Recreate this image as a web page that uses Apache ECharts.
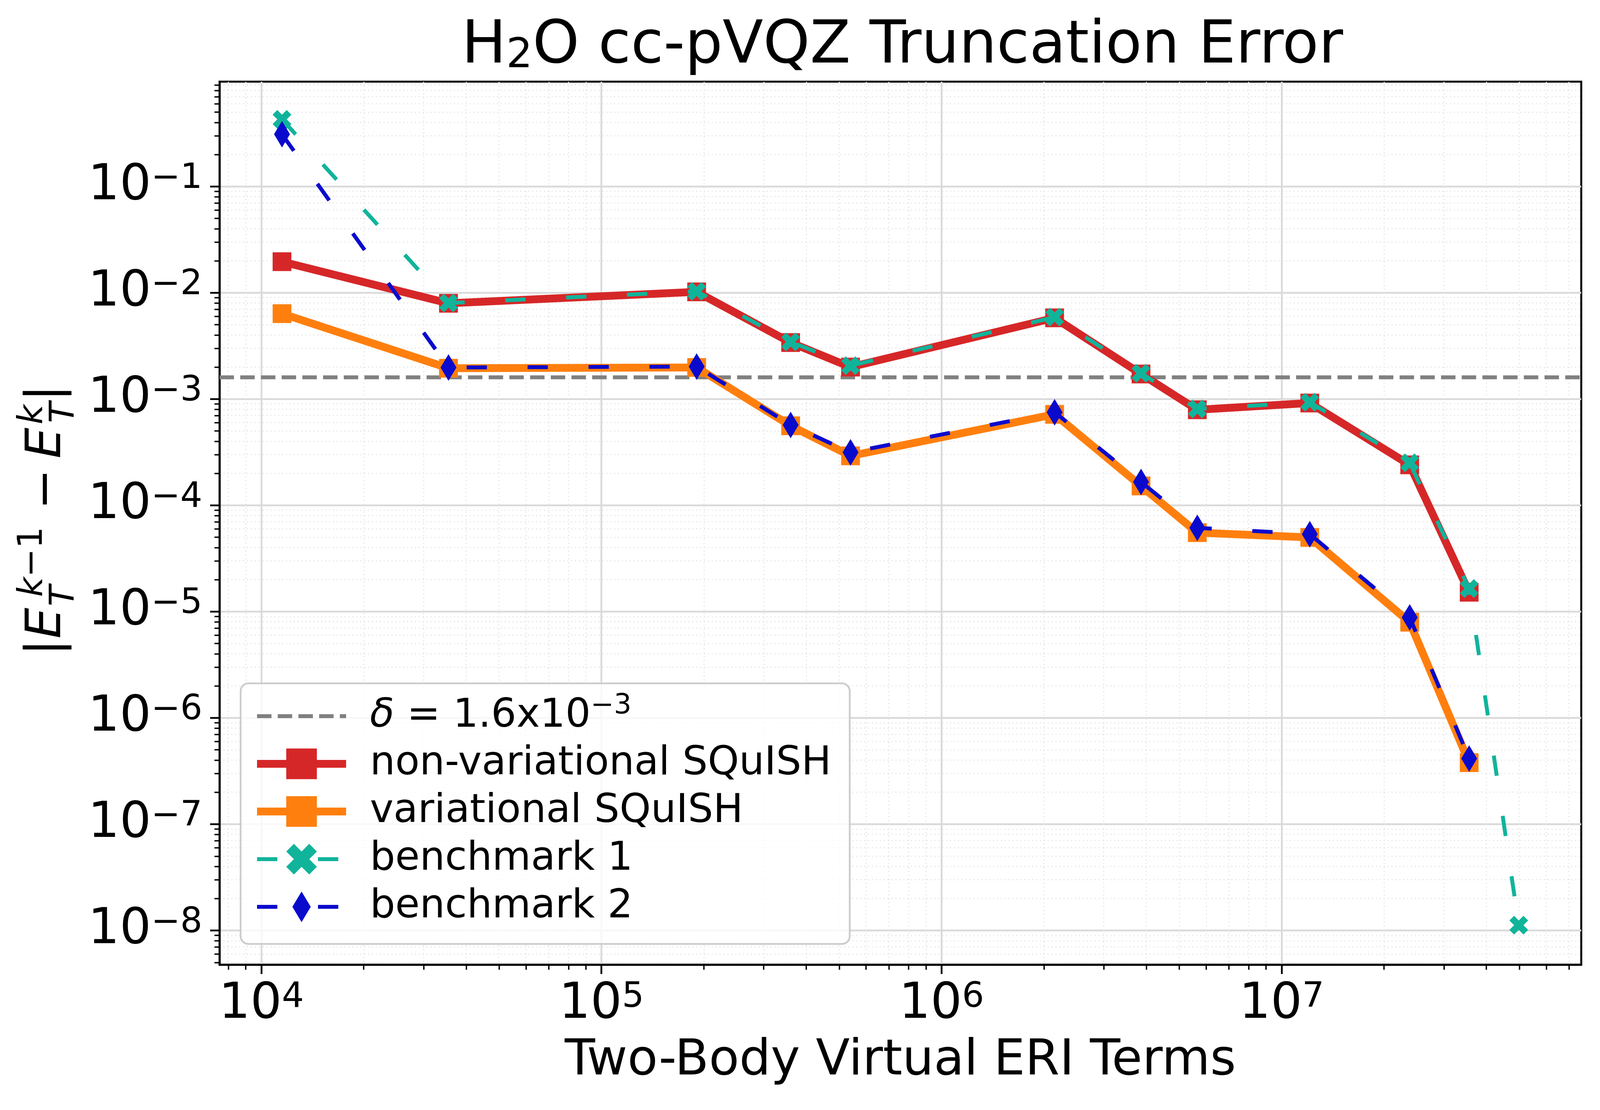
<!DOCTYPE html>
<html>
<head>
<meta charset="utf-8">
<script src="https://cdn.jsdelivr.net/npm/echarts@6/dist/echarts.min.js"></script>
<style>
html,body{margin:0;padding:0;background:#fff;}
#c{width:4101px;height:2841px;}
</style>
</head>
<body>
<div id="c"></div>
<script>
// ---- data ----
const ERI_TERMS = [11500, 35500, 190500, 360000, 540000, 2150000, 3860000, 5650000, 12100000, 23800000, 35600000];
const ERI_TERMS_B1 = [11500, 35500, 190500, 360000, 540000, 2150000, 3860000, 5650000, 12100000, 23800000, 35600000, 49800000];
const NON_VARIATIONAL = [0.0196, 0.00796, 0.0102, 0.0034, 0.00200, 0.0058, 0.00172, 0.000792, 0.000917, 0.000240, 1.52e-5];
const VARIATIONAL = [0.00636, 0.00195, 0.00198, 0.00056, 0.000292, 0.000718, 0.000152, 5.53e-5, 4.99e-5, 7.94e-6, 3.79e-7];
const BENCHMARK_1 = [0.428, 0.0080, 0.0103, 0.00345, 0.00206, 0.0059, 0.00175, 0.000806, 0.000933, 0.000251, 1.65e-5, 1.12e-8];
const BENCHMARK_2 = [0.31, 0.00198, 0.00202, 0.00057, 0.000315, 0.00075, 0.000166, 6.14e-5, 5.35e-5, 8.81e-6, 4.14e-7];
const DELTA = 1.6e-3;

const X_TICKS = [1e4, 1e5, 1e6, 1e7];
const Y_TICKS = [1e-8, 1e-7, 1e-6, 1e-5, 1e-4, 1e-3, 1e-2, 1e-1];

const XMIN = Math.pow(10, 3.877), XMAX = Math.pow(10, 7.881);
const YMIN = Math.pow(10, -8.322), YMAX = Math.pow(10, -0.014);

function minorTicks(lo, hi) {
  const out = [];
  for (let e = Math.floor(Math.log10(lo)); e <= Math.ceil(Math.log10(hi)); e++) {
    for (let k = 2; k <= 9; k++) {
      const v = k * Math.pow(10, e);
      if (v >= lo && v <= hi) out.push(v);
    }
  }
  return out;
}
const X_MINOR = minorTicks(XMIN, XMAX);
const Y_MINOR = minorTicks(YMIN, YMAX);

const FONT = 'DejaVu Sans';
const TICK_FS = 127;

function powLabel(v) {
  const n = Math.round(Math.log10(v));
  return '{b|10}{s|' + (n < 0 ? '\u2212' + (-n) : String(n)) + '}';
}
const tickRich = {
  b: { fontSize: TICK_FS, lineHeight: TICK_FS, fontFamily: FONT, color: '#000' },
  s: { fontSize: 0.7 * TICK_FS, lineHeight: 60, fontFamily: FONT, color: '#000', verticalAlign: 'top' }
};

const X_PATH = 'path://M1,0 L2,1 L3,0 L4,1 L3,2 L4,3 L3,4 L2,3 L1,4 L0,3 L1,2 L0,1 Z';
// thin diamond inside a square bounding box (degenerate points widen the box)
const D_PATH = 'path://M5,0 L8,5 L5,10 L2,5 Z M0,5 L0,5 Z M10,5 L10,5 Z';

const majorSplit = { show: true, lineStyle: { color: '#d9d9d9', width: 4.5 } };
const minorSplit = { show: true, lineStyle: { color: '#e4e4e4', width: 2.5, type: [3, 7] } };

const LEGEND_LABELS = {
  delta: '{g|}{i|\u03b4}{n| = 1.6x10}{s|\u22123}'
};

const chart = echarts.init(document.getElementById('c'), null, { renderer: 'canvas' });

// y-axis label built from math-like pieces (rotated group)
const YL = 125, YS = 87.5;
function yText(txt, lx, ly, fs, italic) {
  return { type: 'text', x: lx, y: ly, style: { text: txt, fontSize: fs, fontFamily: FONT, fontStyle: italic ? 'italic' : 'normal', fontWeight: 'normal', fill: '#000', align: 'center', verticalAlign: 'middle' } };
}
const mid = (fs) => -0.346 * fs;

const option = {
  animation: false,
  backgroundColor: '#fff',
  textStyle: { fontFamily: FONT },
  title: {
    text: '{a|H}{b|2}{a|O cc-pVQZ Truncation Error}',
    left: 2305, top: 40, textAlign: 'center',
    textStyle: {
      fontWeight: 'normal',
      rich: {
        a: { fontSize: 152, lineHeight: 152, fontFamily: FONT, fontWeight: 'normal', color: '#000' },
        b: { fontSize: 106, lineHeight: 70, fontFamily: FONT, fontWeight: 'normal', color: '#000', verticalAlign: 'bottom' }
      }
    }
  },
  grid: { left: 562, top: 209, right: 53, bottom: 372, show: true, borderColor: '#000', borderWidth: 5, backgroundColor: 'transparent' },
  legend: {
    left: 616, top: 1749, orient: 'vertical',
    itemWidth: 228, itemHeight: 98, itemGap: 0,
    padding: [23, 47, 34, 32],
    backgroundColor: 'rgba(255,255,255,0.8)', borderColor: '#cccccc', borderWidth: 4.5, borderRadius: 20,
    selectedMode: false,
    symbolKeepAspect: true,
    lineStyle: { width: 'inherit' },
    data: [
      { name: 'delta', itemStyle: { opacity: 0 }, lineStyle: { width: 10, opacity: 1 } },
      { name: 'non-variational SQuISH', lineStyle: { width: 20 } },
      { name: 'variational SQuISH', lineStyle: { width: 20 } },
      { name: 'benchmark 1', lineStyle: { width: 10 } },
      { name: 'benchmark 2', lineStyle: { width: 10 } }
    ],
    formatter: function (name) { return LEGEND_LABELS[name] || ('{g|}{n|' + name + '}'); },
    textStyle: {
      color: '#000', fontSize: 102, lineHeight: 122, fontFamily: FONT,
      rich: {
        g: { width: 56, lineHeight: 122 },
        n: { fontSize: 102, lineHeight: 122, fontFamily: FONT, color: '#000' },
        i: { fontSize: 102, lineHeight: 122, fontFamily: FONT, color: '#000', fontStyle: 'italic' },
        s: { fontSize: 71, lineHeight: 61, fontFamily: FONT, color: '#000', verticalAlign: 'top' }
      }
    }
  },
  xAxis: [
    {
      type: 'log', logBase: 10, min: XMIN, max: XMAX, position: 'bottom',
      name: 'Two-Body Virtual ERI Terms', nameLocation: 'middle', nameGap: 185,
      nameTextStyle: { fontSize: TICK_FS, color: '#000', fontFamily: FONT },
      axisLine: { show: true, lineStyle: { color: '#000', width: 5 } },
      axisTick: { show: true, customValues: X_TICKS, length: 24, lineStyle: { color: '#000', width: 4.5 } },
      axisLabel: { customValues: X_TICKS, formatter: powLabel, rich: tickRich, margin: 40 },
      splitLine: majorSplit, minorTick: { show: false }, minorSplitLine: { show: false }
    },
    {
      type: 'log', logBase: 10, min: XMIN, max: XMAX, position: 'bottom', offset: 0,
      axisLine: { show: false },
      axisTick: { show: true, customValues: X_MINOR, length: 13, lineStyle: { color: '#000', width: 3.5 } },
      axisLabel: { show: false },
      splitLine: minorSplit
    }
  ],
  yAxis: [
    {
      type: 'log', logBase: 10, min: YMIN, max: YMAX, position: 'left',
      axisLine: { show: true, lineStyle: { color: '#000', width: 5 } },
      axisTick: { show: true, customValues: Y_TICKS, length: 24, lineStyle: { color: '#000', width: 4.5 } },
      axisLabel: { customValues: Y_TICKS, formatter: powLabel, rich: tickRich, margin: 44 },
      splitLine: majorSplit, minorTick: { show: false }, minorSplitLine: { show: false }
    },
    {
      type: 'log', logBase: 10, min: YMIN, max: YMAX, position: 'left', offset: 0,
      axisLine: { show: false },
      axisTick: { show: true, customValues: Y_MINOR, length: 13, lineStyle: { color: '#000', width: 3.5 } },
      axisLabel: { show: false },
      splitLine: minorSplit
    }
  ],
  series: [
    {
      name: 'delta', type: 'line', xAxisIndex: 1, yAxisIndex: 1, z: 2,
      data: [[XMIN, DELTA], [XMAX, DELTA]],
      symbol: 'none', silent: true,
      lineStyle: { color: '#808080', width: 10, type: [37, 16] },
      itemStyle: { color: '#808080' }
    },
    {
      name: 'non-variational SQuISH', type: 'line', z: 3,
      data: ERI_TERMS.map((x, i) => [x, NON_VARIATIONAL[i]]),
      symbol: 'rect', symbolSize: 48,
      lineStyle: { color: '#d62728', width: 20, join: 'round' },
      itemStyle: { color: '#d62728' }
    },
    {
      name: 'variational SQuISH', type: 'line', z: 4,
      data: ERI_TERMS.map((x, i) => [x, VARIATIONAL[i]]),
      symbol: 'rect', symbolSize: 48,
      lineStyle: { color: '#ff7f0e', width: 20, join: 'round' },
      itemStyle: { color: '#ff7f0e' }
    },
    {
      name: 'benchmark 1', type: 'line', z: 5,
      data: ERI_TERMS_B1.map((x, i) => [x, BENCHMARK_1[i]]),
      symbol: X_PATH, symbolSize: 48,
      lineStyle: { color: '#10b49b', width: 10, type: [52, 104] },
      itemStyle: { color: '#10b49b' }
    },
    {
      name: 'benchmark 2', type: 'line', z: 6,
      data: ERI_TERMS.map((x, i) => [x, BENCHMARK_2[i]]),
      symbol: D_PATH, symbolSize: 68, symbolKeepAspect: true,
      lineStyle: { color: '#0a0acd', width: 10, type: [52, 104] },
      itemStyle: { color: '#0a0acd' }
    }
  ],
  graphic: [
    {
      type: 'group', x: 165, y: 1659, rotation: Math.PI / 2,
      children: [
        yText('|', 2, mid(YL), YL, false),
        yText('E', 64, mid(YL), YL, true),
        { type: 'text', x: 221, y: -50 + mid(YS), style: { text: '{i|k}{r|\u22121}', align: 'center', verticalAlign: 'middle', fill: '#000',
          rich: { i: { fontSize: YS, fontFamily: FONT, fontStyle: 'italic' }, r: { fontSize: YS, fontFamily: FONT } } } },
        yText('T', 134, 32 + mid(YS), YS, true),
        yText('\u2212', 407, mid(YL), YL, false),
        yText('E', 525, mid(YL), YL, true),
        yText('k', 598, -50 + mid(YS), YS, true),
        yText('T', 603, 32 + mid(YS), YS, true),
        yText('|', 653, mid(YL), YL, false)
      ]
    }
  ]
};
chart.setOption(option);
</script>
</body>
</html>
